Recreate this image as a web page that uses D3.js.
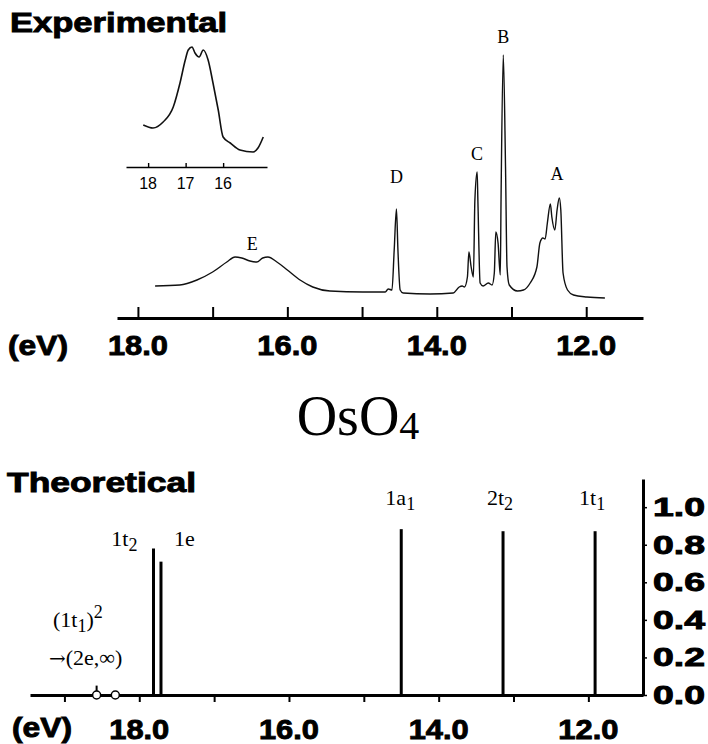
<!DOCTYPE html>
<html>
<head>
<meta charset="utf-8">
<script src="https://cdn.jsdelivr.net/npm/d3@7"></script>
<style>
  body { margin: 0; background: #fff; }
  svg { display: block; }
  .serif { font-family: "Liberation Serif", "Times New Roman", serif; }
  .heavy { font-family: "Liberation Sans", Arial, sans-serif; font-weight: bold; stroke: #000; stroke-width: 0.9; }
</style>
</head>
<body>
<svg id="canvas" width="708" height="744"></svg>
<script>
// ---- experimental spectrum (photon energy in eV, relative intensity)
let expEnergy = [17.77, 17.44, 17.21, 17.0, 16.81, 16.70, 16.61, 16.50, 16.41, 16.33, 16.26, 16.14, 16.00, 15.83, 15.66, 15.43, 14.99, 14.69, 14.65, 14.60, 14.57, 14.54, 14.52, 14.49, 14.45, 14.09,
  13.78, 13.70, 13.66, 13.63, 13.59, 13.57, 13.54, 13.51, 13.49, 13.46, 13.45, 13.42, 13.38, 13.31, 13.26, 13.23, 13.21, 13.18, 13.15, 13.14, 13.11, 13.08, 13.06, 13.03,
  12.92, 12.84, 12.75, 12.66, 12.62, 12.58, 12.55, 12.52, 12.48, 12.46, 12.42, 12.39, 12.36, 12.34, 12.31, 12.25, 12.17, 11.99, 11.75];
let expIntensity = [14, 15, 20, 28, 38, 43, 42, 39, 38, 42, 43, 38, 30, 20, 13, 9, 8, 8, 11, 10, 50, 91, 50, 10, 7, 6,
  7, 13, 14, 13, 23, 48, 33, 23, 100, 128, 100, 17, 14, 17, 15, 27, 68, 57, 25, 100, 245, 133, 33, 15,
  9, 10, 17, 33, 57, 62, 61, 77, 96, 83, 70, 90, 102, 90, 27, 10, 5, 3, 2];

let peakNames = ['A', 'B', 'C', 'D', 'E'];
let peakEnergy = [12.39, 13.11, 13.46, 14.54, 16.47];
let peakLabelLevel = [120, 257, 140, 117, 50];

// ---- inset: band E on an expanded scale
let insetEnergy = [18.13, 17.87, 17.6, 17.33, 17.15, 17.01, 16.93, 16.83, 16.75, 16.64, 16.53, 16.4, 16.27, 16.13, 16.0, 15.81, 15.55, 15.2, 15.07, 14.93];
let insetIntensity = [42, 39, 45, 60, 84, 107, 117, 120, 114, 110, 117, 107, 84, 57, 30, 24, 17, 15, 19, 30];
let insetTicks = [18, 17, 16];

// ---- axes
let expTicks = [18, 17, 16, 15, 14, 13, 12];
let expTickLabels = [18, 16, 14, 12];
let theoTicks = [19, 18, 17, 16, 15, 14, 13, 12];
let theoTickLabels = [18, 16, 14, 12];
let strengthTicks = [0, 0.2, 0.4, 0.6, 0.8, 1.0];

// ---- theoretical ionisation lines
let orbitals = ['1t2', '1e', '1a1', '2t2', '1t1'];
let orbitalEnergy = [17.81, 17.71, 14.50, 13.14, 11.91];
let orbitalStrength = [0.78, 0.71, 0.883, 0.872, 0.872];
let thresholdEnergy = [18.57, 18.32];

let canvas = d3.select('#canvas');

// ================= Experimental =================
let xTop = d3.scaleLinear().domain([18.28, 11.24]).range([117, 643]);
let yTop = d3.scaleLinear().domain([0, 245]).range([300, 55]);

canvas.append('text').attr('class', 'heavy')
  .attr('x', 10).attr('y', 32).attr('font-size', 27)
  .attr('textLength', 217).attr('lengthAdjust', 'spacingAndGlyphs')
  .text('Experimental');

let spectrum = expEnergy.map((e, i) => [e, expIntensity[i]]);
canvas.append('path')
  .datum(spectrum)
  .attr('fill', 'none').attr('stroke', '#111').attr('stroke-width', 1.4)
  .attr('d', d3.line().x(d => xTop(d[0])).y(d => yTop(d[1])).curve(d3.curveMonotoneX));

canvas.selectAll('.peak')
  .data(peakNames)
  .enter().append('text')
  .attr('class', 'peak serif')
  .attr('x', (d, i) => xTop(peakEnergy[i]))
  .attr('y', (d, i) => yTop(peakLabelLevel[i]))
  .attr('text-anchor', 'middle').attr('font-size', 18)
  .text(d => d);

let topAxis = canvas.append('g')
  .attr('transform', 'translate(0,318)')
  .call(d3.axisTop(xTop).tickValues(expTicks).tickSize(11).tickSizeOuter(0).tickFormat(''));
topAxis.select('.domain').attr('stroke-width', 3);
topAxis.selectAll('.tick line').attr('stroke-width', 2);

canvas.selectAll('.toplab')
  .data(expTickLabels)
  .enter().append('text')
  .attr('class', 'toplab heavy')
  .attr('x', d => xTop(d)).attr('y', 355)
  .attr('text-anchor', 'middle').attr('font-size', 28)
  .attr('textLength', 60).attr('lengthAdjust', 'spacingAndGlyphs')
  .text(d => d.toFixed(1));

canvas.append('text').attr('class', 'heavy')
  .attr('x', 8).attr('y', 355).attr('font-size', 28)
  .attr('textLength', 60).attr('lengthAdjust', 'spacingAndGlyphs')
  .text('(eV)');

// inset
let xIn = d3.scaleLinear().domain([18.59, 14.83]).range([126, 267]);
let yIn = d3.scaleLinear().domain([0, 127]).range([167, 40]);
canvas.append('path')
  .datum(insetEnergy.map((e, i) => [e, insetIntensity[i]]))
  .attr('fill', 'none').attr('stroke', '#111').attr('stroke-width', 1.6)
  .attr('d', d3.line().x(d => xIn(d[0])).y(d => yIn(d[1])).curve(d3.curveMonotoneX));

let inAxis = canvas.append('g')
  .attr('transform', 'translate(0,167)')
  .call(d3.axisTop(xIn).tickValues(insetTicks).tickSize(4).tickSizeOuter(0).tickFormat(''));
inAxis.select('.domain').attr('stroke-width', 1.6);
inAxis.selectAll('.tick line').attr('stroke-width', 1.4);

canvas.selectAll('.inlab')
  .data(insetTicks)
  .enter().append('text')
  .attr('x', d => xIn(d)).attr('y', 189)
  .attr('text-anchor', 'middle').attr('font-size', 16)
  .attr('font-family', 'Liberation Sans, Arial, sans-serif')
  .text(d => d);

// ================= title =================
let title = canvas.append('text').attr('class', 'serif')
  .attr('x', 358).attr('y', 435).attr('text-anchor', 'middle').attr('font-size', 56);
title.append('tspan').text('OsO');
title.append('tspan').attr('font-size', 40).attr('dy', 4).text('4');

// ================= Theoretical =================
let xBot = d3.scaleLinear().domain([19.46, 11.27]).range([30, 643]);
let yBot = d3.scaleLinear().domain([0, 1.15]).range([695, 479]);

canvas.append('text').attr('class', 'heavy')
  .attr('x', 7).attr('y', 492).attr('font-size', 27)
  .attr('textLength', 189).attr('lengthAdjust', 'spacingAndGlyphs')
  .text('Theoretical');

canvas.selectAll('.orb')
  .data(orbitals)
  .enter().append('line')
  .attr('class', 'orb')
  .attr('x1', (d, i) => xBot(orbitalEnergy[i])).attr('x2', (d, i) => xBot(orbitalEnergy[i]))
  .attr('y1', yBot(0)).attr('y2', (d, i) => yBot(orbitalStrength[i]))
  .attr('stroke', '#000').attr('stroke-width', 3);

let botAxis = canvas.append('g')
  .attr('transform', 'translate(0,695)')
  .call(d3.axisBottom(xBot).tickValues(theoTicks).tickSize(7).tickSizeOuter(0).tickFormat(''));
botAxis.select('.domain').attr('stroke-width', 3);
botAxis.selectAll('.tick line').attr('stroke-width', 2);

let rightAxis = canvas.append('g')
  .attr('transform', 'translate(643,0)')
  .call(d3.axisRight(yBot).tickValues(strengthTicks).tickSize(4).tickSizeOuter(0).tickFormat(''));
rightAxis.select('.domain').attr('stroke-width', 3);
rightAxis.selectAll('.tick line').attr('stroke-width', 1.5);

canvas.selectAll('.rlab')
  .data(strengthTicks)
  .enter().append('text')
  .attr('class', 'rlab heavy')
  .attr('x', 653).attr('y', d => yBot(d) + 9)
  .attr('font-size', 25)
  .attr('textLength', 52).attr('lengthAdjust', 'spacingAndGlyphs')
  .text(d => d.toFixed(1));

canvas.selectAll('.botlab')
  .data(theoTickLabels)
  .enter().append('text')
  .attr('class', 'botlab heavy')
  .attr('x', d => xBot(d)).attr('y', 739)
  .attr('text-anchor', 'middle').attr('font-size', 27)
  .attr('textLength', 60).attr('lengthAdjust', 'spacingAndGlyphs')
  .text(d => d.toFixed(1));

canvas.append('text').attr('class', 'heavy')
  .attr('x', 12).attr('y', 737).attr('font-size', 27)
  .attr('textLength', 60).attr('lengthAdjust', 'spacingAndGlyphs')
  .text('(eV)');

// double-ionisation threshold markers
canvas.append('line')
  .attr('x1', xBot(thresholdEnergy[0])).attr('x2', xBot(thresholdEnergy[0]))
  .attr('y1', yBot(0)).attr('y2', yBot(0.05))
  .attr('stroke', '#000').attr('stroke-width', 2);
canvas.selectAll('.thr')
  .data(thresholdEnergy)
  .enter().append('circle')
  .attr('cx', d => xBot(d)).attr('cy', yBot(0)).attr('r', 4)
  .attr('fill', '#fff').attr('stroke', '#000').attr('stroke-width', 1.5);

// orbital labels: number + letter + subscript
let labelPlace = {
  '1t2': {dx: -16, anchor: 'end', y: 546},
  '1e':  {dx: 13, anchor: 'start', y: 546},
  '1a1': {dx: -1, anchor: 'middle', y: 505},
  '2t2': {dx: -3, anchor: 'middle', y: 505},
  '1t1': {dx: -3, anchor: 'middle', y: 505}
};
orbitals.forEach((o, i) => {
  let p = labelPlace[o];
  let t = canvas.append('text').attr('class', 'serif')
    .attr('x', xBot(orbitalEnergy[i]) + p.dx).attr('y', p.y)
    .attr('text-anchor', p.anchor).attr('font-size', 22);
  t.append('tspan').text(o.slice(0, 2));
  if (o.length > 2) t.append('tspan').attr('dy', 5).attr('font-size', 18).text(o.slice(2));
});

let ann = canvas.append('text').attr('class', 'serif')
  .attr('x', 53).attr('y', 627).attr('font-size', 22);
ann.append('tspan').text('(1t');
ann.append('tspan').attr('dy', 5).attr('font-size', 18).text('1');
ann.append('tspan').attr('dy', -5).text(')');
ann.append('tspan').attr('dy', -9).attr('font-size', 18).text('2');

let arrowLine = canvas.append('text').attr('class', 'serif')
  .attr('x', 49).attr('y', 665).attr('font-size', 22);
arrowLine.append('tspan').attr('font-family', 'DejaVu Serif, serif').attr('font-size', 20).text('\u2192');
arrowLine.append('tspan').text('(2e,\u221E)');
</script>
</body>
</html>
